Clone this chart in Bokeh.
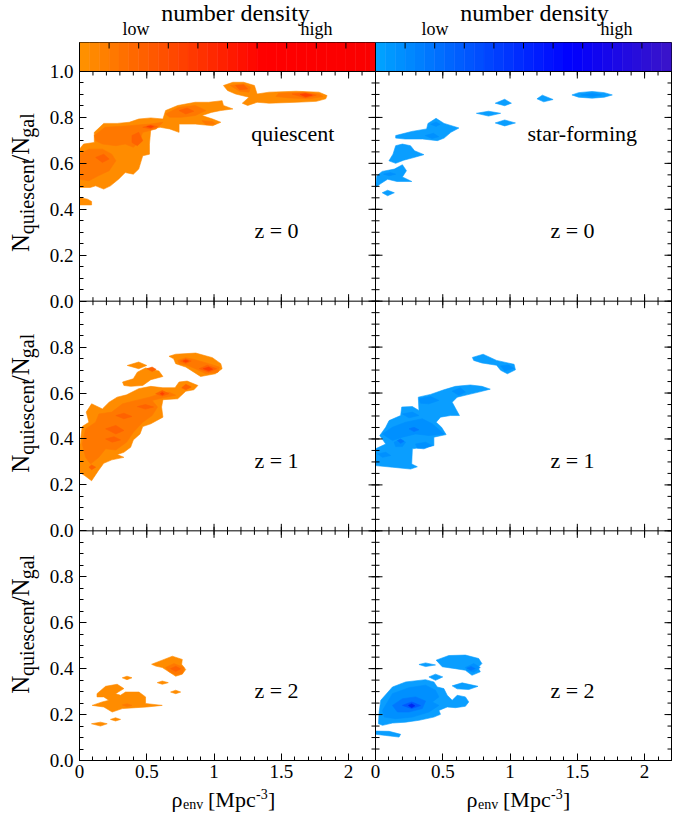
import math
from bokeh.plotting import figure
from bokeh.models import LinearAxis, Label, FixedTicker, Range1d, Span
from bokeh.layouts import column, row
from bokeh.embed import file_html
from bokeh.resources import INLINE

FONT = "Liberation Serif"

# ---------------- axis ticks (per panel) ----------------
X_TICKS = [0.0, 0.5, 1.0, 1.5, 2.0]
X_TICK_LABELS = ["0", "0.5", "1", "1.5", "2"]
X_MINOR = [0.0, 0.1, 0.2, 0.3, 0.4, 0.5, 0.6, 0.7, 0.8, 0.9, 1.0, 1.1, 1.2, 1.3, 1.4,
           1.5, 1.6, 1.7, 1.8, 1.9, 2.0, 2.1, 2.2]
Y_TICKS = [0.0, 0.2, 0.4, 0.6, 0.8, 1.0]
Y_LABELS_TOP = ["0.0", "0.2", "0.4", "0.6", "0.8", "1.0"]
Y_LABELS_LOW = ["0.0", "0.2", "0.4", "0.6", "0.8", None]
Y_MINOR = [0.0, 0.05, 0.1, 0.15, 0.2, 0.25, 0.3, 0.35, 0.4, 0.45, 0.5, 0.55, 0.6, 0.65,
           0.7, 0.75, 0.8, 0.85, 0.9, 0.95, 1.0]
CB_TICKS = [0.1, 0.2, 0.3, 0.4, 0.5, 0.6, 0.7, 0.8, 0.9]   # fractions of colour bar

# ---------------- density contours (rho_env, N_q/N_gal), one polygon per list ----------------
# quiescent, z = 0
Q0_X = [
    [0.00, 0.00, 0.03, 0.11, 0.11, 0.18, 0.28, 0.37, 0.44, 0.53, 0.62, 0.64, 0.73, 0.86, 0.96, 1.06, 1.07, 1.14, 1.05, 0.98,
     0.91, 0.99, 1.05, 0.99, 0.86, 0.74, 0.74, 0.67, 0.60, 0.53, 0.52, 0.52, 0.47, 0.44, 0.40, 0.34, 0.29, 0.23, 0.18, 0.12, 0.08],
    [0.00, 0.06, 0.09, 0.09, 0.00],
    [1.07, 1.14, 1.22, 1.30, 1.32, 1.41, 1.61, 1.78, 1.84, 1.83, 1.76, 1.61, 1.41, 1.32, 1.25, 1.21, 1.26, 1.16, 1.10],
    [0.11, 0.19, 0.37, 0.52, 0.62, 0.57, 0.47, 0.44, 0.40, 0.34, 0.27, 0.17, 0.12],
    [0.00, 0.07, 0.17, 0.24, 0.27, 0.22, 0.14, 0.07, 0.00],
    [0.64, 0.74, 0.86, 0.94, 0.86, 0.76, 0.67],
    [1.46, 1.48, 1.66, 1.78, 1.81, 1.71, 1.56],
    [1.12, 1.22, 1.27, 1.26, 1.19],
    [0.91, 0.99, 1.01, 0.94],
    [0.47, 0.53, 0.58, 0.53],
    [0.39, 0.44, 0.47, 0.43, 0.39],
    [0.12, 0.18, 0.22, 0.17],
    [0.74, 0.80, 0.85, 0.79],
    [1.58, 1.68, 1.76, 1.68],
    [1.16, 1.22, 1.25, 1.19],
    [1.64, 1.68, 1.73, 1.68],
    [0.50, 0.53, 0.55, 0.53],
]
Q0_Y = [
    [0.495, 0.662, 0.684, 0.691, 0.735, 0.774, 0.774, 0.779, 0.793, 0.798, 0.793, 0.830, 0.852, 0.866, 0.866, 0.873, 0.852, 0.837, 0.830, 0.822,
     0.808, 0.793, 0.779, 0.764, 0.771, 0.771, 0.735, 0.750, 0.757, 0.750, 0.684, 0.640, 0.633, 0.575, 0.553, 0.560, 0.531, 0.502, 0.488, 0.502, 0.495],
    [0.451, 0.444, 0.434, 0.419, 0.419],
    [0.939, 0.953, 0.953, 0.939, 0.902, 0.910, 0.914, 0.910, 0.895, 0.881, 0.870, 0.866, 0.862, 0.866, 0.852, 0.862, 0.888, 0.902, 0.917],
    [0.721, 0.757, 0.764, 0.771, 0.779, 0.750, 0.735, 0.691, 0.670, 0.684, 0.677, 0.684, 0.699],
    [0.640, 0.662, 0.662, 0.640, 0.611, 0.568, 0.546, 0.524, 0.531],
    [0.815, 0.844, 0.852, 0.830, 0.808, 0.801, 0.801],
    [0.891, 0.905, 0.910, 0.902, 0.891, 0.881, 0.885],
    [0.939, 0.946, 0.932, 0.910, 0.914],
    [0.786, 0.782, 0.771, 0.769],
    [0.757, 0.767, 0.760, 0.750],
    [0.721, 0.735, 0.699, 0.677, 0.691],
    [0.626, 0.640, 0.619, 0.604],
    [0.830, 0.841, 0.827, 0.815],
    [0.902, 0.907, 0.897, 0.885],
    [0.939, 0.942, 0.924, 0.921],
    [0.900, 0.904, 0.897, 0.890],
    [0.760, 0.764, 0.760, 0.755],
]
Q0_L = [1, 1, 1, 2, 2, 2, 2, 2, 2, 3, 3, 3, 3, 3, 3, 4, 4]

# star-forming, z = 0
S0_X = [
    [1.46, 1.51, 1.61, 1.70, 1.76, 1.70, 1.61, 1.51],
    [1.20, 1.24, 1.32, 1.25],
    [0.89, 0.96, 1.01, 0.96],
    [0.75, 0.84, 0.93, 0.84],
    [0.89, 0.96, 1.04, 0.96],
    [0.15, 0.27, 0.38, 0.39, 0.45, 0.51, 0.62, 0.56, 0.51, 0.46, 0.35, 0.22, 0.15],
    [0.10, 0.13, 0.15, 0.20, 0.26, 0.29, 0.36, 0.27, 0.21, 0.15],
    [0.00, 0.01, 0.05, 0.14, 0.20, 0.23, 0.20, 0.27, 0.16, 0.09, 0.04],
    [0.05, 0.09, 0.14, 0.09],
    [1.53, 1.61, 1.68, 1.61],
    [0.37, 0.43, 0.47, 0.42],
    [0.41, 0.45, 0.48, 0.45],
    [0.06, 0.11, 0.15, 0.10],
]
S0_Y = [
    [0.898, 0.908, 0.913, 0.908, 0.898, 0.888, 0.884, 0.888],
    [0.881, 0.897, 0.878, 0.868],
    [0.862, 0.879, 0.862, 0.851],
    [0.818, 0.827, 0.818, 0.806],
    [0.776, 0.789, 0.776, 0.763],
    [0.721, 0.739, 0.750, 0.774, 0.796, 0.774, 0.754, 0.735, 0.710, 0.699, 0.706, 0.706, 0.710],
    [0.611, 0.640, 0.677, 0.684, 0.677, 0.655, 0.638, 0.623, 0.614, 0.600],
    [0.495, 0.546, 0.565, 0.575, 0.594, 0.568, 0.541, 0.521, 0.521, 0.531, 0.512],
    [0.472, 0.483, 0.472, 0.459],
    [0.898, 0.905, 0.898, 0.891],
    [0.721, 0.731, 0.716, 0.708],
    [0.770, 0.780, 0.770, 0.761],
    [0.553, 0.560, 0.553, 0.546],
]
S0_L = [1, 1, 1, 1, 1, 1, 1, 1, 1, 2, 2, 2, 2]

# quiescent, z = 1
Q1_X = [
    [0.00, 0.00, 0.02, 0.07, 0.05, 0.09, 0.17, 0.22, 0.28, 0.35, 0.44, 0.53, 0.62, 0.71, 0.74, 0.80, 0.88, 0.85, 0.79, 0.73,
     0.62, 0.61, 0.62, 0.53, 0.47, 0.45, 0.40, 0.38, 0.33, 0.28, 0.33, 0.24, 0.18, 0.14, 0.09, 0.04],
    [0.355, 0.44, 0.50, 0.44],
    [0.32, 0.40, 0.43, 0.49, 0.59, 0.62, 0.53, 0.47, 0.38, 0.33],
    [0.665, 0.715, 0.864, 0.988, 1.05, 1.06, 1.01, 0.90, 0.85, 0.79, 0.715, 0.70],
    [0.02, 0.045, 0.12, 0.144, 0.24, 0.32, 0.42, 0.52, 0.60, 0.665, 0.715, 0.62, 0.54, 0.58, 0.54, 0.47, 0.40, 0.35, 0.27, 0.194,
     0.144, 0.082, 0.045],
    [0.73, 0.79, 0.86, 0.96, 1.04, 1.03, 0.94, 0.86, 0.80, 0.74],
    [0.75, 0.79, 0.83, 0.79],
    [0.89, 0.95, 1.02, 0.96],
    [0.76, 0.79, 0.83, 0.79],
    [0.194, 0.27, 0.33, 0.27],
    [0.194, 0.256, 0.305, 0.243],
    [0.27, 0.33, 0.39, 0.33],
    [0.566, 0.615, 0.665, 0.615],
    [0.43, 0.49, 0.55, 0.49],
    [0.07, 0.09, 0.12, 0.09],
    [0.50, 0.54, 0.57, 0.54],
    [0.92, 0.96, 0.99, 0.96],
    [0.77, 0.79, 0.81, 0.79],
    [0.60, 0.615, 0.63, 0.615],
]
Q1_Y = [
    [0.255, 0.357, 0.454, 0.473, 0.517, 0.553, 0.531, 0.560, 0.582, 0.592, 0.619, 0.629, 0.623, 0.623, 0.648, 0.652, 0.633, 0.614, 0.608, 0.575,
     0.571, 0.539, 0.495, 0.466, 0.454, 0.422, 0.396, 0.364, 0.342, 0.332, 0.320, 0.309, 0.294, 0.262, 0.218, 0.240],
    [0.720, 0.735, 0.720, 0.706],
    [0.648, 0.662, 0.691, 0.709, 0.696, 0.672, 0.658, 0.633, 0.629, 0.633],
    [0.760, 0.769, 0.774, 0.754, 0.728, 0.706, 0.684, 0.672, 0.691, 0.713, 0.728, 0.749],
    [0.378, 0.443, 0.473, 0.509, 0.517, 0.553, 0.568, 0.582, 0.597, 0.604, 0.590, 0.579, 0.568, 0.539, 0.502, 0.473, 0.429, 0.386, 0.352, 0.357,
     0.320, 0.291, 0.320],
    [0.742, 0.754, 0.745, 0.728, 0.713, 0.691, 0.684, 0.706, 0.721, 0.728],
    [0.739, 0.749, 0.739, 0.729],
    [0.706, 0.721, 0.706, 0.691],
    [0.623, 0.638, 0.626, 0.614],
    [0.444, 0.459, 0.437, 0.422],
    [0.400, 0.410, 0.396, 0.386],
    [0.502, 0.512, 0.498, 0.488],
    [0.597, 0.611, 0.597, 0.587],
    [0.541, 0.550, 0.539, 0.530],
    [0.277, 0.287, 0.277, 0.266],
    [0.706, 0.713, 0.703, 0.694],
    [0.706, 0.713, 0.704, 0.697],
    [0.739, 0.744, 0.739, 0.734],
    [0.597, 0.603, 0.597, 0.591],
]
Q1_L = [1, 1, 1, 1, 2, 2, 3, 3, 3, 3, 3, 3, 3, 3, 3, 3, 4, 4, 4]

# star-forming, z = 1
S1_X = [
    [0.72, 0.80, 0.90, 1.03, 1.04, 0.98, 0.93, 0.90, 0.79, 0.73],
    [0.0, 0.0, 0.076, 0.032, 0.076, 0.101, 0.187, 0.195, 0.274, 0.323, 0.318, 0.409, 0.508, 0.594, 0.705, 0.791, 0.853, 0.767, 0.680, 0.607,
     0.570, 0.624, 0.557, 0.483, 0.451, 0.491, 0.525, 0.434, 0.434, 0.274, 0.269, 0.311, 0.261, 0.126],
    [0.052, 0.126, 0.224, 0.348, 0.422, 0.508, 0.397, 0.298, 0.20, 0.126],
    [0.138, 0.187, 0.224, 0.20, 0.150],
    [0.298, 0.372, 0.422, 0.360, 0.311],
    [0.323, 0.409, 0.471, 0.397, 0.335],
    [0.570, 0.631, 0.668, 0.619],
    [0.20, 0.274, 0.323, 0.249],
    [0.015, 0.076, 0.113, 0.052],
    [0.93, 0.99, 1.03, 0.96],
    [0.163, 0.187, 0.212, 0.187],
    [0.249, 0.286, 0.323, 0.286],
]
S1_Y = [
    [0.755, 0.769, 0.742, 0.725, 0.701, 0.684, 0.699, 0.721, 0.731, 0.742],
    [0.284, 0.357, 0.378, 0.415, 0.451, 0.480, 0.502, 0.539, 0.541, 0.524, 0.582, 0.594, 0.614, 0.629, 0.635, 0.629, 0.617, 0.604, 0.592, 0.582,
     0.560, 0.502, 0.502, 0.495, 0.473, 0.451, 0.419, 0.408, 0.371, 0.357, 0.291, 0.279, 0.269, 0.277],
    [0.422, 0.451, 0.473, 0.488, 0.466, 0.422, 0.415, 0.422, 0.408, 0.393],
    [0.386, 0.400, 0.386, 0.367, 0.367],
    [0.378, 0.386, 0.371, 0.357, 0.360],
    [0.575, 0.585, 0.568, 0.553, 0.556],
    [0.608, 0.623, 0.604, 0.590],
    [0.509, 0.517, 0.502, 0.492],
    [0.335, 0.342, 0.328, 0.320],
    [0.718, 0.722, 0.707, 0.697],
    [0.393, 0.399, 0.390, 0.381],
    [0.444, 0.451, 0.440, 0.432],
]
S1_L = [1, 1, 2, 2, 2, 2, 2, 2, 2, 2, 3, 3]

# quiescent, z = 2
Q2_X = [
    [0.13, 0.194, 0.28, 0.33, 0.268, 0.305, 0.342, 0.442, 0.491, 0.491, 0.615, 0.50, 0.417, 0.318, 0.243, 0.181, 0.094, 0.169, 0.218, 0.181, 0.13],
    [0.536, 0.615, 0.69, 0.764, 0.759, 0.789, 0.764, 0.715, 0.665, 0.615, 0.566],
    [0.318, 0.353, 0.39, 0.353],
    [0.578, 0.615, 0.66, 0.615],
    [0.677, 0.715, 0.752, 0.715],
    [0.23, 0.268, 0.305, 0.268],
    [0.089, 0.156, 0.206, 0.156],
    [0.64, 0.702, 0.777, 0.764, 0.715, 0.665],
    [0.318, 0.353, 0.39, 0.353],
    [0.677, 0.715, 0.752, 0.715],
]
Q2_Y = [
    [0.291, 0.323, 0.332, 0.313, 0.291, 0.284, 0.298, 0.298, 0.277, 0.248, 0.240, 0.233, 0.230, 0.226, 0.211, 0.233, 0.240, 0.255, 0.262, 0.277, 0.277],
    [0.419, 0.437, 0.454, 0.440, 0.419, 0.396, 0.376, 0.367, 0.386, 0.405, 0.411],
    [0.360, 0.367, 0.360, 0.352],
    [0.339, 0.346, 0.339, 0.332],
    [0.298, 0.306, 0.298, 0.291],
    [0.179, 0.186, 0.179, 0.172],
    [0.160, 0.167, 0.160, 0.150],
    [0.405, 0.422, 0.405, 0.379, 0.373, 0.387],
    [0.242, 0.247, 0.240, 0.234],
    [0.400, 0.410, 0.399, 0.388],
]
Q2_L = [1, 1, 1, 1, 1, 1, 1, 2, 2, 3]

# star-forming, z = 2
S2_X = [
    [0.022, 0.027, 0.039, 0.126, 0.224, 0.372, 0.434, 0.459, 0.508, 0.533, 0.57, 0.607, 0.668, 0.693, 0.668, 0.594, 0.533, 0.471, 0.483, 0.434,
     0.323, 0.224, 0.126, 0.052],
    [0.002, 0.101, 0.187, 0.175, 0.076, 0.002],
    [0.451, 0.545, 0.668, 0.767, 0.791, 0.762, 0.779, 0.717, 0.668, 0.594, 0.496],
    [0.323, 0.372, 0.446, 0.372],
    [0.397, 0.446, 0.50, 0.446],
    [0.57, 0.644, 0.762, 0.693, 0.607],
    [0.052, 0.126, 0.249, 0.372, 0.446, 0.471, 0.422, 0.471, 0.397, 0.274, 0.15, 0.064],
    [0.668, 0.73, 0.779, 0.73, 0.68],
    [0.126, 0.20, 0.298, 0.372, 0.348, 0.249, 0.163],
    [0.68, 0.71, 0.742, 0.71],
    [0.20, 0.269, 0.335, 0.269],
    [0.244, 0.269, 0.293, 0.269],
]
S2_Y = [
    [0.160, 0.211, 0.262, 0.320, 0.342, 0.352, 0.342, 0.320, 0.313, 0.284, 0.262, 0.284, 0.277, 0.255, 0.236, 0.230, 0.233, 0.218, 0.201, 0.189,
     0.175, 0.167, 0.163, 0.153],
    [0.128, 0.127, 0.114, 0.102, 0.109, 0.114],
    [0.437, 0.457, 0.459, 0.444, 0.422, 0.405, 0.386, 0.371, 0.393, 0.400, 0.408],
    [0.418, 0.425, 0.416, 0.409],
    [0.364, 0.376, 0.364, 0.349],
    [0.325, 0.338, 0.323, 0.309, 0.312],
    [0.218, 0.291, 0.317, 0.328, 0.306, 0.277, 0.255, 0.240, 0.211, 0.189, 0.182, 0.189],
    [0.405, 0.422, 0.405, 0.384, 0.393],
    [0.240, 0.269, 0.277, 0.259, 0.226, 0.211, 0.211],
    [0.402, 0.409, 0.400, 0.393],
    [0.240, 0.255, 0.239, 0.226],
    [0.240, 0.247, 0.238, 0.230],
]
S2_L = [1, 1, 1, 1, 1, 1, 2, 2, 3, 3, 4, 5]

REDSHIFT_LABELS = ["z = 0", "z = 1", "z = 2"]
POPULATION_LABELS = ["quiescent", "star-forming"]

# ---------------- colours ----------------
ORANGE_LEVELS = ["#ff8c00", "#ff7800", "#ff6200", "#ff4000"]
BLUE_LEVELS = ["#0a9eff", "#0090ff", "#0078ff", "#0058ff", "#0028f0"]
ORANGE_STOPS = [(0.0, (255, 148, 0)), (0.62, (255, 0, 0)), (1.0, (250, 0, 0))]
BLUE_STOPS = [(0.0, (0, 165, 255)), (0.66, (0, 0, 255)), (1.0, (60, 20, 200))]
N_BANDS = 30

# ---------------- geometry (style) ----------------
XSPAN = 2.2                       # x extent of one panel
ROW_OFF = [2.0, 1.0, 0.0]         # vertical offset of each row in the stacked frame
CB_H = 29 / 229.67                # colour bar height in panel units
FRAME_W, FRAME_H = 593, 718
LEFT_B, BOT_B, TOP_B, RIGHT_B = 32, 28, 1, 1
YT_W = 46
HDR_H = 41
XT_H = 28
MID = 0.34                        # em offset of the text middle above the baseline
PX_PER_UNIT = 229.67


def interp_color(stops, t):
    for (t0, c0), (t1, c1) in zip(stops[:-1], stops[1:]):
        if t <= t1:
            f = (t - t0) / (t1 - t0) if t1 > t0 else 0
            c = [round(a + (b - a) * f) for a, b in zip(c0, c1)]
            return "#%02x%02x%02x" % tuple(c)
    return "#%02x%02x%02x" % stops[-1][1]


def blank_fig(w, h, xr, yr):
    f = figure(width=w, height=h, x_range=Range1d(*xr), y_range=Range1d(*yr),
               output_backend="svg", toolbar_location=None,
               min_border_left=0, min_border_right=0, min_border_top=0, min_border_bottom=0,
               x_axis_location=None, y_axis_location=None)
    f.xgrid.visible = False
    f.ygrid.visible = False
    f.outline_line_color = None
    f.background_fill_color = "white"
    f.border_fill_color = "white"
    return f


def txt(fig, text, x, y, size, align="left", angle=0.0):
    fig.add_layout(Label(x=x, y=y, text=text, angle=angle, text_align=align,
                         text_baseline="middle", text_font=FONT,
                         text_font_size="%dpx" % size, text_color="black"))


# ---------------- main stacked frame ----------------
p = figure(width=LEFT_B + FRAME_W + RIGHT_B, height=TOP_B + FRAME_H + BOT_B,
           x_range=Range1d(0, 2 * XSPAN), y_range=Range1d(0, 3 + CB_H),
           output_backend="svg", toolbar_location=None,
           min_border_left=LEFT_B, min_border_right=RIGHT_B, min_border_top=TOP_B,
           min_border_bottom=BOT_B, x_axis_location=None, y_axis_location=None)
p.xgrid.visible = False
p.ygrid.visible = False
p.outline_line_color = "black"
p.outline_line_width = 1
p.background_fill_color = "white"
p.border_fill_color = "white"

panels = [
    [(Q0_X, Q0_Y, Q0_L), (S0_X, S0_Y, S0_L)],
    [(Q1_X, Q1_Y, Q1_L), (S1_X, S1_Y, S1_L)],
    [(Q2_X, Q2_Y, Q2_L), (S2_X, S2_Y, S2_L)],
]
palettes = [ORANGE_LEVELS, BLUE_LEVELS]
mid22 = MID * 22 / PX_PER_UNIT

for r, prow in enumerate(panels):
    for c, (xs, ys, levs) in enumerate(prow):
        pal = palettes[c]
        xx = [[x + c * XSPAN for x in poly] for poly in xs]
        yy = [[y + ROW_OFF[r] for y in poly] for poly in ys]
        cols = [pal[l - 1] for l in levs]
        p.patches(xs=xx, ys=yy, fill_color=cols, line_color=cols, line_width=0.6)
        txt(p, REDSHIFT_LABELS[r], c * XSPAN + 1.30, ROW_OFF[r] + 0.274 + mid22, 22)
# population labels (top row)
txt(p, POPULATION_LABELS[0], 1.276, ROW_OFF[0] + 0.697 + mid22, 22)
txt(p, POPULATION_LABELS[1], XSPAN + 1.13, ROW_OFF[0] + 0.697 + mid22, 22)

# colour bars
for c, stops in enumerate([ORANGE_STOPS, BLUE_STOPS]):
    edges = [c * XSPAN + XSPAN * i / N_BANDS for i in range(N_BANDS + 1)]
    cols = [interp_color(stops, (i + 0.5) / N_BANDS) for i in range(N_BANDS)]
    p.quad(left=edges[:-1], right=edges[1:], bottom=3.0, top=3 + CB_H,
           fill_color=cols, line_color=cols, line_width=0.5)
    cbx = [c * XSPAN + XSPAN * t for t in CB_TICKS]
    p.ray(x=cbx, y=[3 + CB_H] * len(cbx), length=6, angle=-math.pi / 2,
          length_units="screen", line_color="black", line_width=1)

# panel separators
for loc in [1.0, 2.0, 3.0]:
    p.add_layout(Span(location=loc, dimension="width", line_color="black", line_width=1))
p.add_layout(Span(location=XSPAN, dimension="height", line_color="black", line_width=1))

# left axis with labels for every row
ytick_pos, ylabels, yminor = [], {}, []
for r in range(3):
    labs = Y_LABELS_TOP if r == 0 else Y_LABELS_LOW
    for t, lab in zip(Y_TICKS, labs):
        pos = round(ROW_OFF[r] + t, 3)
        if pos not in ytick_pos:
            ytick_pos.append(pos)
        if lab is not None:
            ylabels[pos] = lab
    for m in Y_MINOR:
        pos = round(ROW_OFF[r] + m, 3)
        if pos not in yminor:
            yminor.append(pos)
ytick_pos.sort()
yminor.sort()

yax = LinearAxis(ticker=FixedTicker(ticks=ytick_pos, minor_ticks=yminor))
yax.major_label_overrides = ylabels
xtick_pos, xlabels, xminor = [], {}, []
for c in range(2):
    for t, lab in zip(X_TICKS, X_TICK_LABELS):
        pos = round(c * XSPAN + t, 3)
        xtick_pos.append(pos)
        xlabels[pos] = lab
    for m in X_MINOR:
        pos = round(c * XSPAN + m, 3)
        if pos not in xminor:
            xminor.append(pos)
xax = LinearAxis(ticker=FixedTicker(ticks=xtick_pos, minor_ticks=xminor))
xax.major_label_overrides = xlabels
for ax, standoff in [(yax, 6), (xax, 4)]:
    ax.major_tick_in = 7
    ax.major_tick_out = 0
    ax.minor_tick_in = 4
    ax.minor_tick_out = 0
    ax.axis_line_color = "black"
    ax.major_tick_line_color = "black"
    ax.minor_tick_line_color = "black"
    ax.major_label_text_font = FONT
    ax.major_label_text_font_size = "19px"
    ax.major_label_text_color = "black"
    ax.major_label_standoff = standoff
p.add_layout(yax, "left")
p.add_layout(xax, "below")

# inward tick marks on the remaining panel edges
for xs_edge, ang in [(XSPAN, math.pi), (XSPAN, 0.0), (2 * XSPAN, math.pi)]:
    p.ray(x=[xs_edge] * len(ytick_pos), y=ytick_pos, length=7, angle=ang, length_units="screen",
          line_color="black", line_width=1)
    p.ray(x=[xs_edge] * len(yminor), y=yminor, length=4, angle=ang, length_units="screen",
          line_color="black", line_width=1)
for yb, dirs in [(1.0, [math.pi / 2, -math.pi / 2]), (2.0, [math.pi / 2, -math.pi / 2]),
                 (3.0, [-math.pi / 2])]:
    for ang in dirs:
        p.ray(x=xtick_pos, y=[yb] * len(xtick_pos), length=7, angle=ang, length_units="screen",
              line_color="black", line_width=1)
        p.ray(x=xminor, y=[yb] * len(xminor), length=4, angle=ang, length_units="screen",
              line_color="black", line_width=1)

TOTAL_W = YT_W + LEFT_B + FRAME_W + RIGHT_B
MAIN_H = TOP_B + FRAME_H + BOT_B
MAIN_BOTTOM = HDR_H + MAIN_H          # page y of the bottom of the main row

# ---------------- header texts (page coords, y measured up from header bottom) ----------------
hdr = blank_fig(TOTAL_W, HDR_H, (0, TOTAL_W), (0, HDR_H))
for cx, lowx, highx in [(235, 122, 300), (534, 421, 600)]:
    txt(hdr, "number density", cx, HDR_H - (21 - MID * 24), 24, align="center")
    txt(hdr, "low", lowx, HDR_H - (35 - MID * 18), 18)
    txt(hdr, "high", highx, HDR_H - (35 - MID * 18), 18)

# ---------------- y-axis titles ----------------
yt = blank_fig(YT_W, MAIN_H, (0, YT_W), (0, MAIN_H))
for cy_page in [187.5, 417, 647]:
    y0 = (MAIN_BOTTOM - cy_page) - 71.5
    txt(yt, "N", 28 - MID * 25, y0, 25, angle=math.pi / 2)
    txt(yt, "quiescent", 33 - MID * 20, y0 + 18.5, 20, angle=math.pi / 2)
    txt(yt, "/N", 28 - MID * 25, y0 + 94, 25, angle=math.pi / 2)
    txt(yt, "gal", 33 - MID * 20, y0 + 119, 20, angle=math.pi / 2)

# ---------------- x-axis titles ----------------
xt = blank_fig(TOTAL_W, XT_H, (0, TOTAL_W), (0, XT_H))
XT_TOP = MAIN_BOTTOM + XT_H
for x0 in [171, 466]:
    txt(xt, "\u03c1", x0, XT_TOP - (806 - MID * 22), 22)
    txt(xt, "env", x0 + 11.5, XT_TOP - (808.5 - MID * 14), 14)
    txt(xt, "[Mpc", x0 + 36.5, XT_TOP - (806 - MID * 22), 22)
    txt(xt, "-3", x0 + 84.5, XT_TOP - (798 - MID * 14), 14)
    txt(xt, "]", x0 + 96.5, XT_TOP - (806 - MID * 22), 22)

layout = column(hdr, row(yt, p), xt)

with open("out.html", "w") as f:
    f.write(file_html(layout, INLINE))
